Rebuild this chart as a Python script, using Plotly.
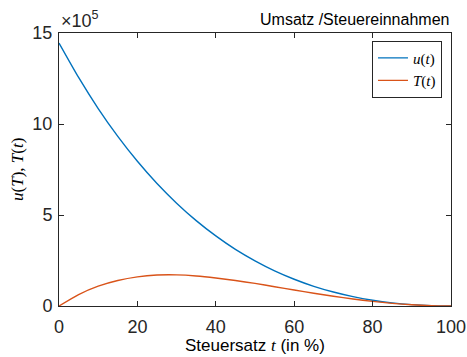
import plotly.graph_objects as go

# Tax rate t (in %)
t_vals = [0, 5, 10, 15, 20, 25, 30, 35, 40, 45, 50, 55, 60, 65, 70, 75, 80, 85, 90, 95, 100]
# Umsatz u(t) in units of 10^5
u_vals = [14.45, 12.56, 10.85, 9.32, 7.95, 6.73, 5.65, 4.69, 3.85, 3.11, 2.48, 1.93,
          1.47, 1.08, 0.767, 0.513, 0.316, 0.171, 0.073, 0.018, 0.0]
# Steuereinnahmen T(t) in units of 10^5
T_vals = [0.0, 0.63, 1.09, 1.40, 1.60, 1.70, 1.71, 1.65, 1.54, 1.40, 1.24, 1.06,
          0.88, 0.70, 0.537, 0.385, 0.253, 0.145, 0.066, 0.017, 0.0]

x_ticks = [0, 20, 40, 60, 80, 100]
y_ticks = [0, 5, 10, 15]

AX = "#262626"
SANS = "Liberation Sans, Arial, sans-serif"
SERIF = "Liberation Serif, Times New Roman, serif"

fig = go.Figure()
fig.add_trace(go.Scatter(x=t_vals, y=u_vals, mode="lines", name="<i>u</i>(<i>t</i>)",
                         line=dict(color="#0072BD", width=1.4, shape="spline", smoothing=0.6)))
fig.add_trace(go.Scatter(x=t_vals, y=T_vals, mode="lines", name="<i>T</i>(<i>t</i>)",
                         line=dict(color="#D95319", width=1.4, shape="spline", smoothing=0.6)))

axis_common = dict(showline=True, linecolor=AX, linewidth=1, mirror="ticks",
                   ticks="inside", ticklen=5, tickcolor=AX, showgrid=False, zeroline=False,
                   automargin=False,
                   tickfont=dict(family=SANS, size=18, color=AX))

fig.update_layout(
    width=467, height=357,
    margin=dict(l=59, r=16, t=33, b=51),
    paper_bgcolor="white", plot_bgcolor="white",
    xaxis=dict(range=[0, 100], tickvals=x_ticks, ticklabelstandoff=4, **axis_common),
    yaxis=dict(range=[0, 15], tickvals=y_ticks, ticklabelstandoff=2, **axis_common),
    showlegend=True,
    legend=dict(x=0.977, y=0.972, xanchor="right", yanchor="top",
                bordercolor=AX, borderwidth=1, bgcolor="white",
                font=dict(family=SERIF, size=15, color="#000000"),
                tracegroupgap=0, itemwidth=30),
)

fig.add_annotation(text="Umsatz /Steuereinnahmen", xref="paper", yref="paper",
                   x=1.0, y=1.0, xanchor="right", yanchor="bottom", yshift=3,
                   showarrow=False, font=dict(family=SANS, size=16, color="#000000"))
fig.add_annotation(text="×10<sup>5</sup>", xref="paper", yref="paper",
                   x=0.0, y=1.0, xanchor="left", yanchor="bottom", xshift=0, yshift=0,
                   showarrow=False, font=dict(family=SANS, size=18, color=AX))
fig.add_annotation(text="Steuersatz <i style='font-family:Liberation Serif'>t</i> (in %)",
                   xref="paper", yref="paper", x=0.5, y=0, xanchor="center", yanchor="top",
                   yshift=-28, showarrow=False, font=dict(family=SANS, size=17, color="#000000"))
fig.add_annotation(text="<i>u</i>(<i>T</i>), <i>T</i>(<i>t</i>)", xref="paper", yref="paper",
                   x=0, y=0.5, xanchor="right", yanchor="middle", xshift=-30, textangle=-90,
                   showarrow=False, font=dict(family=SERIF, size=17, color="#000000"))

fig.write_html("out.html")
